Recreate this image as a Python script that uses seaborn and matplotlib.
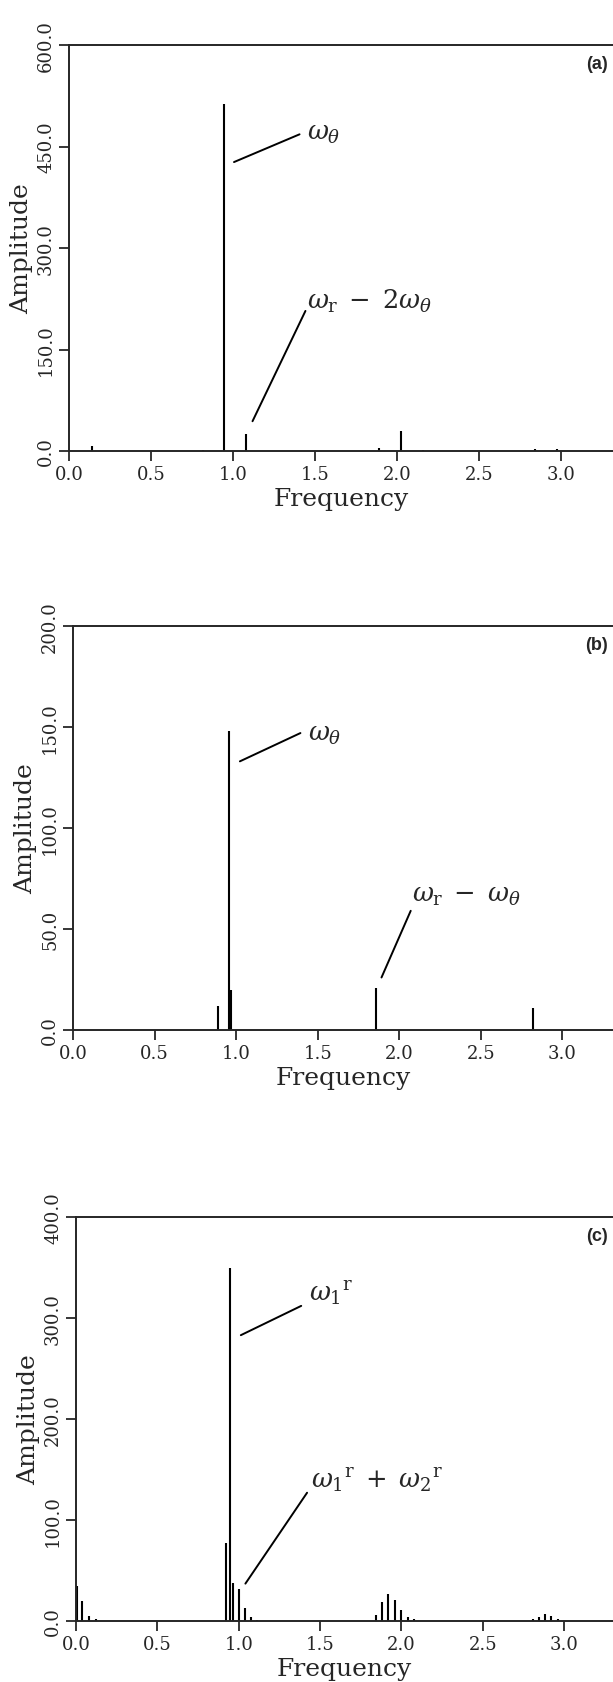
import matplotlib
matplotlib.use("Agg")
import matplotlib.pyplot as plt
import seaborn as sns
import numpy as np
import pandas as pd

# --- Spectral peaks ---
freq_a = [0.14, 0.82, 0.945, 1.083, 1.893, 2.027, 2.16, 2.842, 2.976]
amp_a = [8, 2, 513, 25, 5, 30, 1.5, 3, 3]

freq_b = [0.891, 0.956, 0.966, 1.855, 2.82]
amp_b = [12, 148, 20, 21, 11]

freq_c = [0.005, 0.036, 0.079, 0.12, 0.919, 0.948, 0.967, 1.0, 1.04, 1.077, 1.11,
          1.843, 1.882, 1.92, 1.96, 1.999, 2.04, 2.076,
          2.81, 2.846, 2.885, 2.92, 2.96]
amp_c = [35, 20, 5, 2, 77, 350, 38, 32, 12.6, 4, 1,
         5.6, 18.8, 26.4, 20.5, 10.6, 4, 1.5,
         1.5, 4, 7, 4.5, 2]

panel_tags = ['(a)', '(b)', '(c)']
y_max = [600, 200, 400]
y_step = [150, 50, 100]
x_max = [3.32, 3.31, 3.30]
x_ticks = [0.0, 0.5, 1.0, 1.5, 2.0, 2.5, 3.0]

# annotation text + leader line (x0, y0, x1, y1) + text anchor
notes = [
    [(r'$\omega_\theta$', (1.007, 427, 1.407, 468), (1.45, 470)),
     (r'$\omega_\mathrm{r}\;-\;2\omega_\theta$', (1.12, 44, 1.443, 207), (1.455, 222))],
    [(r'$\omega_\theta$', (1.023, 133, 1.394, 147), (1.443, 147)),
     (r'$\omega_\mathrm{r}\;-\;\omega_\theta$', (1.891, 26, 2.07, 59), (2.078, 67))],
    [(r'$\omega_1{}^\mathrm{r}$', (1.013, 283, 1.384, 312), (1.432, 325)),
     (r'$\omega_1{}^\mathrm{r}\;+\;\omega_2{}^\mathrm{r}$', (1.041, 37, 1.42, 127), (1.444, 140))],
]

sns.set_style("ticks")
plt.rcParams['font.family'] = ['DejaVu Serif']
plt.rcParams['mathtext.fontset'] = 'dejavuserif'

fig = plt.figure(figsize=(6.13, 16.83), dpi=100)
W, H = 613, 1683
boxes = [(69, 46, 452), (73, 627, 1031), (76, 1218, 1622)]  # left, top, bottom in px

spectra = [
    pd.DataFrame({'freq': freq_a, 'amp': amp_a}),
    pd.DataFrame({'freq': freq_b, 'amp': amp_b}),
    pd.DataFrame({'freq': freq_c, 'amp': amp_c}),
]

for i, df in enumerate(spectra):
    left, top, bottom = boxes[i]
    ax = fig.add_axes([left / W, 1 - bottom / H, (W - left) / W, (bottom - top) / H])
    ax.vlines(df['freq'], 0, df['amp'], color='black', linewidth=1.5)
    ax.set_xlim(0, x_max[i])
    ax.set_ylim(0, y_max[i])
    ax.set_xticks(x_ticks)
    ax.set_xticklabels([f'{t:.1f}' for t in x_ticks])
    yt = np.arange(0, y_max[i] + 1, y_step[i])
    ax.set_yticks(yt)
    ax.set_yticklabels([f'{t:.1f}' for t in yt], rotation=90, va='center')
    sns.despine(ax=ax, top=False, right=True)
    for s in ['left', 'bottom', 'top']:
        ax.spines[s].set_linewidth(1.4)
    ax.tick_params(axis='both', direction='out', length=7, width=1.3,
                   labelsize=13, pad=3)
    ax.set_xlabel('Frequency', fontsize=18, labelpad=3)
    ax.set_ylabel('Amplitude', fontsize=18, labelpad=3)
    ax.text(0.99, 0.955, panel_tags[i], transform=ax.transAxes, ha='right', va='center',
            fontsize=13, fontweight='bold', family=['Liberation Sans', 'DejaVu Sans'])
    for label, (x0, y0, x1, y1), (tx, ty) in notes[i]:
        ax.plot([x0, x1], [y0, y1], color='black', linewidth=1.4)
        ax.text(tx, ty, label, ha='left', va='center', fontsize=18.5)

fig.savefig('out.png', dpi=100)
